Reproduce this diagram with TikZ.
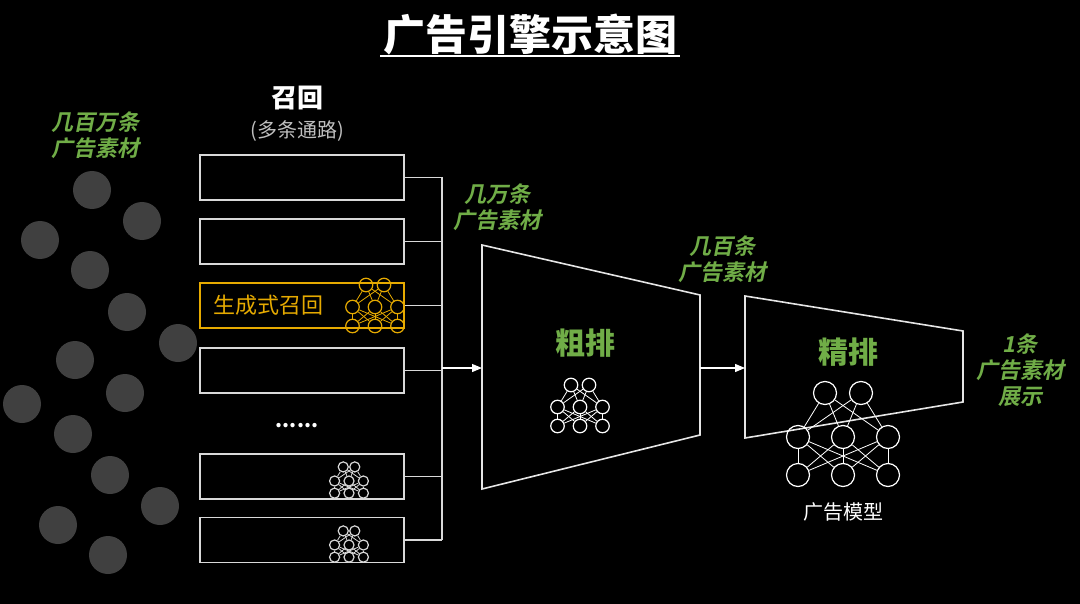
\documentclass[tikz,border=0pt]{standalone}
\usepackage{fontspec}
\setmainfont{Noto Sans CJK SC}
\newfontfamily\slfont{Noto Sans CJK SC Bold}[FakeSlant=0.2]
\usetikzlibrary{arrows.meta}
\definecolor{adgreen}{RGB}{112,173,71}
\definecolor{adgold}{RGB}{230,170,0}
\definecolor{dotgray}{RGB}{64,64,64}
\tikzset{
  green label/.style={text=adgreen, font=\slfont\fontsize{11}{13}\selectfont, align=center},
  path box/.style={draw=white!85!black, line width=0.8pt, minimum width=102pt, minimum height=22.5pt, inner sep=0pt},
  link/.style={draw=white!85!black, line width=0.6pt},
  funnel/.style={draw=white!90!black, line width=0.8pt},
  neuron/.style={circle, draw, inner sep=0pt, line width=0.6pt},
}
% small neural net: name, centre x, centre y, scale, colour
\newcommand{\nnet}[5]{%
  \begin{scope}[#5, every node/.style={neuron, minimum size=2pt+#4*9.5pt}]
    \node (#1t1) at (#2-18*#4, #3-44*#4) {};
    \node (#1t2) at (#2+18*#4, #3-44*#4) {};
    \foreach \i/\dx in {1/-45,2/0,3/45} {
      \node (#1m\i) at (#2+\dx*#4, #3) {};
      \node (#1b\i) at (#2+\dx*#4, #3+38*#4) {};
    }
    \foreach \i in {1,2,3} {
      \draw (#1t1) -- (#1m\i);
      \draw (#1t2) -- (#1m\i);
      \foreach \j in {1,2,3} \draw (#1m\i) -- (#1b\j);
    }
  \end{scope}}
\begin{document}
\begin{tikzpicture}[x=0.5pt,y=-0.5pt]
  \fill[black] (0,0) rectangle (1080,604);
  \useasboundingbox (0,0) rectangle (1080,604);

  % title
  \node[text=white, font=\bfseries\fontsize{21}{24}\selectfont] (title) at (530,35) {广告引擎示意图};
  \draw[white, line width=1.2pt] (380,56) -- (680,56);

  % pool of ads
  \node[green label] (pool) at (95,135) {几百万条\\广告素材};
  \foreach \x/\y in {92/190,142/221,40/240,90/270,127/312,178/343,75/360,125/393,22/404,73/434,110/475,160/506,58/525,108/555}
    \fill[dotgray] (\x,\y) circle[radius=19];

  % recall paths
  \node[text=white, font=\bfseries\fontsize{13}{15}\selectfont] (recall) at (297,98) {召回};
  \node[text=white!75!black, font=\fontsize{10}{12}\selectfont] (recallsub) at (297,131) {(多条通路)};
  \node[path box] (p1) at (302,177.5) {};
  \node[path box] (p2) at (302,241.5) {};
  \node[path box, draw=adgold] (p3) at (302,305.5) {};
  \node[path box] (p4) at (302,370.5) {};
  \node[path box] (p5) at (302,476.5) {};
  \node[path box] (p6) at (302,540) {};
  \node[text=adgold, font=\fontsize{11}{13}\selectfont, anchor=west] (gen) at (206,305.5) {生成式召回};
  \node[text=white, font=\bfseries\fontsize{10}{10}\selectfont] (dots) at (297,426) {......};
  \nnet{g}{375}{307}{0.5}{adgold}
  \nnet{w}{349}{481}{0.32}{white!85!black}
  \nnet{v}{349}{545}{0.32}{white!85!black}

  % merge
  \coordinate (bus) at (442,368);
  \foreach \i in {1,...,6} \draw[link] (p\i.east) -- (p\i.east -| bus);
  \draw[link] (p1.east -| bus) -- (p6.east -| bus);

  % pre-ranking
  \coordinate (c1) at (482,245); \coordinate (c2) at (700,295);
  \coordinate (c3) at (700,435); \coordinate (c4) at (482,489);
  \draw[funnel] (c1) -- (c2) -- (c3) -- (c4) -- cycle;
  \draw[link, -{Triangle[length=5pt,width=4pt]}, white] (bus) -- (bus -| c1);
  \node[green label] (tenk) at (497,207) {几万条\\广告素材};
  \node[text=adgreen, font=\bfseries\fontsize{15}{17}\selectfont] (coarse) at (585,343) {粗排};
  \nnet{c}{580}{407}{0.5}{white}

  % ranking
  \coordinate (f1) at (745,296); \coordinate (f2) at (963,331);
  \coordinate (f3) at (963,402); \coordinate (f4) at (745,438);
  \draw[funnel] (f1) -- (f2) -- (f3) -- (f4) -- cycle;
  \draw[link, -{Triangle[length=5pt,width=4pt]}, white] (700,368) -- (745,368);
  \node[green label] (hundred) at (722,259) {几百条\\广告素材};
  \node[text=adgreen, font=\bfseries\fontsize{15}{17}\selectfont] (fine) at (848,352) {精排};
  \nnet{f}{843}{437}{1}{white}
  \node[text=white, font=\fontsize{10}{12}\selectfont] (model) at (843,512) {广告模型};

  % output
  \node[green label] (one) at (1020,370) {1条\\广告素材\\展示};
\end{tikzpicture}
\end{document}
